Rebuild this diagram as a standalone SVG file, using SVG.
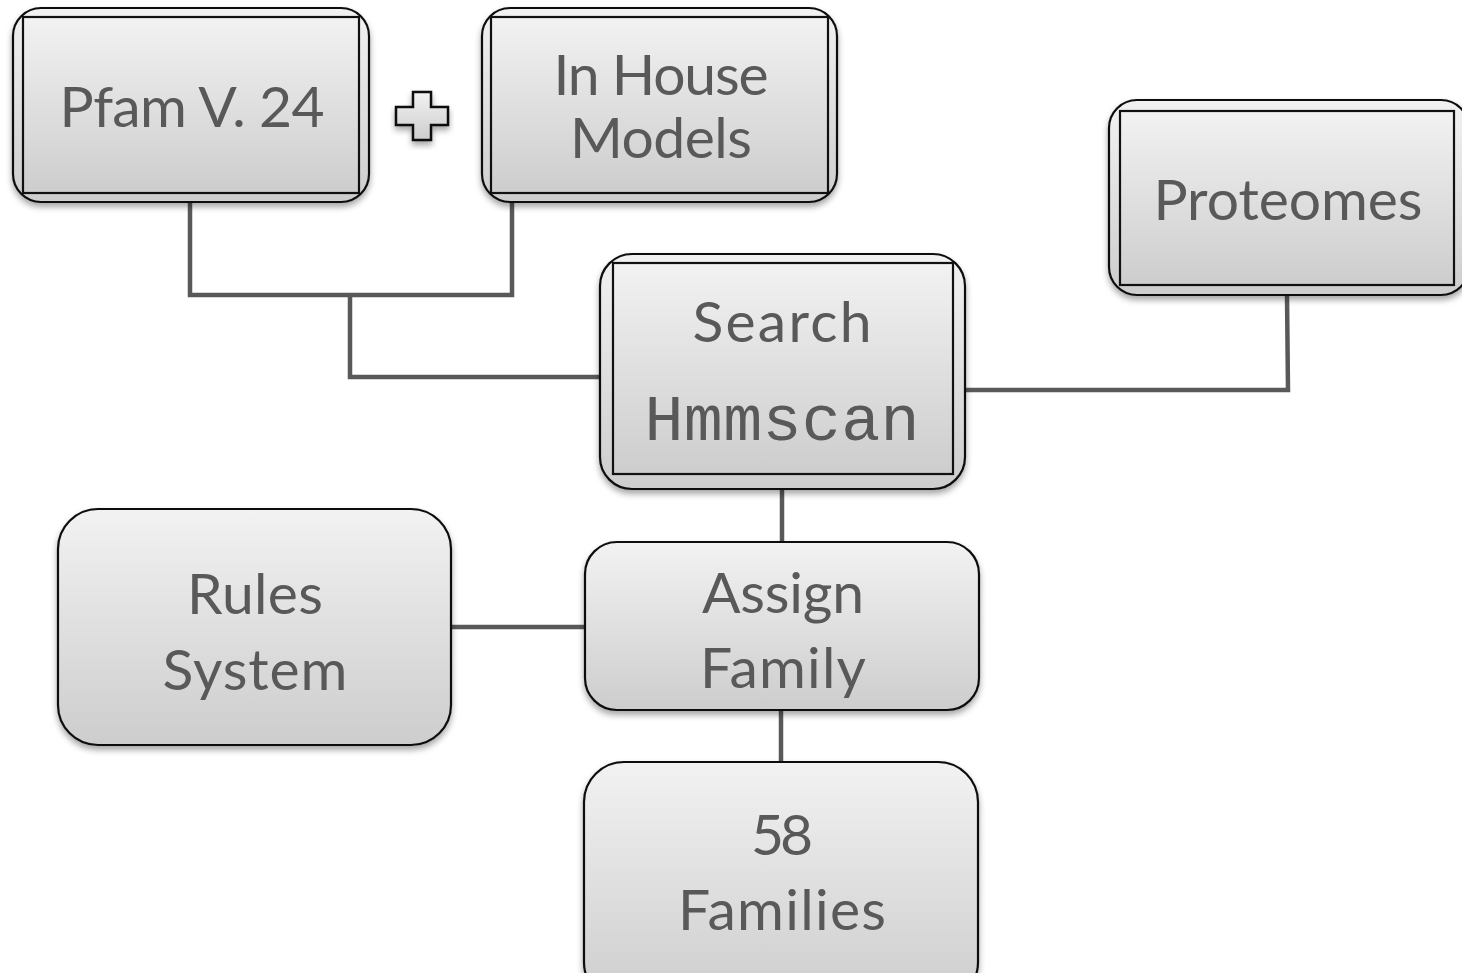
<svg xmlns="http://www.w3.org/2000/svg" width="1462" height="973" viewBox="0 0 1462 973">
<defs>
<linearGradient id="g" x1="0" y1="0" x2="0" y2="1">
<stop offset="0" stop-color="#f2f2f2"/>
<stop offset="1" stop-color="#cdcdcd"/>
</linearGradient>
<filter id="sh" x="-10%" y="-10%" width="120%" height="130%">
<feDropShadow dx="0" dy="4" stdDeviation="3" flood-color="#000" flood-opacity="0.35"/>
</filter>
<style>
.box{fill:url(#g);stroke:#111;stroke-width:2.2;filter:url(#sh)}
.in{fill:url(#g);stroke:#111;stroke-width:2.2}
.t{font-family:Lato,"Open Sans",sans-serif;font-size:57px;fill:#595959;text-anchor:middle}
.m{font-family:"Liberation Mono","Courier New",monospace;font-size:65px;fill:#595959;text-anchor:middle}
.c{fill:none;stroke:#595959;stroke-width:4.5}
</style>
</defs>
<g id="connectors">
<polyline class="c" points="190,202 190,295 512,295 512,202"/>
<polyline class="c" points="350,295 350,377 600,377"/>
<polyline class="c" points="1287,296 1288,390 965,390"/>
<line class="c" x1="782" y1="490" x2="782" y2="542"/>
<line class="c" x1="451" y1="627" x2="585" y2="627"/>
<line class="c" x1="781" y1="710" x2="781" y2="762"/>
</g>
<g id="pfam">
<rect class="box" x="13" y="8" width="356" height="194" rx="28"/>
<rect class="in" x="23" y="17" width="336" height="176"/>
<text class="t" x="192" y="127" textLength="265">Pfam V. 24</text>
</g>
<g id="plus">
<polygon points="413,92 431,92 431,107 448,107 448,125 431,125 431,140 413,140 413,125 396,125 396,107 413,107" fill="url(#g)" stroke="#111" stroke-width="2.5" filter="url(#sh)"/>
</g>
<g id="inhouse">
<rect class="box" x="482" y="8" width="355" height="194" rx="28"/>
<rect class="in" x="491" y="17" width="337" height="176"/>
<text class="t" x="661" y="95" textLength="215">In House</text>
<text class="t" x="661" y="158" textLength="182">Models</text>
</g>
<g id="proteomes">
<rect class="box" x="1109" y="100" width="360" height="195" rx="28"/>
<rect class="in" x="1120" y="111" width="334" height="174"/>
<text class="t" x="1288" y="220" textLength="269">Proteomes</text>
</g>
<g id="search">
<rect class="box" x="600" y="254" width="365" height="235" rx="32"/>
<rect class="in" x="613" y="263" width="340" height="211"/>
<text class="t" x="782" y="342" textLength="179">Search</text>
<text class="m" x="782" y="440" textLength="275">Hmmscan</text>
</g>
<g id="rules">
<rect class="box" x="58" y="509" width="393" height="236" rx="40"/>
<text class="t" x="255" y="614" textLength="136">Rules</text>
<text class="t" x="255" y="690" textLength="185">System</text>
</g>
<g id="assign">
<rect class="box" x="585" y="542" width="394" height="168" rx="32"/>
<text class="t" x="783" y="613" textLength="162">Assign</text>
<text class="t" x="783" y="688" textLength="166">Family</text>
</g>
<g id="families">
<rect class="box" x="584" y="762" width="394" height="240" rx="40"/>
<text class="t" x="782" y="855" textLength="62">58</text>
<text class="t" x="782" y="930" textLength="208">Families</text>
</g>
</svg>
